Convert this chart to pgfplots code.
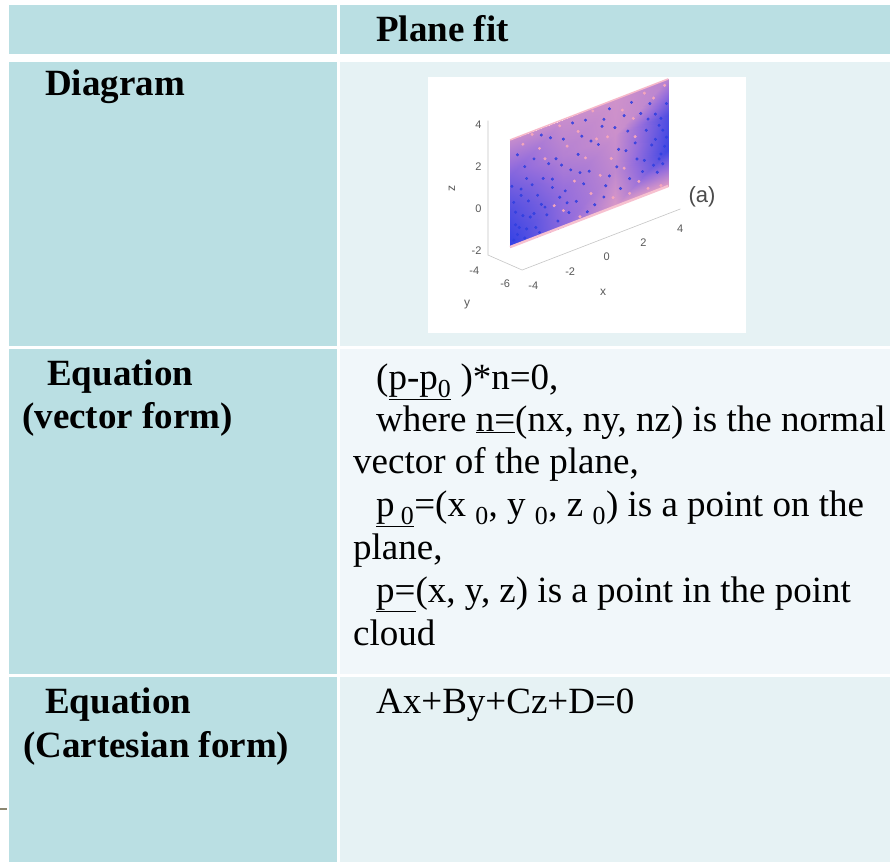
\documentclass[border=0pt]{standalone}
\usepackage{pgfplots}
\usepackage{pgfplotstable}
\pgfplotsset{compat=1.18}
\usepackage{fontspec}
\setmainfont{Liberation Serif}
\newfontfamily\plotfont{Liberation Sans}

\definecolor{cellhead}{HTML}{BADFE3}
\definecolor{cellB}{HTML}{E6F2F4}
\definecolor{cellC}{HTML}{F1F7FA}
\definecolor{dashcol}{HTML}{8C8670}
\definecolor{ptblue}{HTML}{2F3FE0}
\definecolor{ptpink}{HTML}{F4A6BC}

% plane grid: x, y, z, colour value (0 blue .. 1 pink)
\pgfplotstableread{
x y z m
-4.2 -5.42 -1.36 0.05
-1.33 -5.42 -1.36 0.45
1.53 -5.42 -1.36 0.85
4.4 -5.42 -1.36 0.90

-4.2 -5.42 0.34 0.18
-1.33 -5.42 0.34 0.50
1.53 -5.42 0.34 0.72
4.4 -5.42 0.34 0.10

-4.2 -5.42 2.04 0.40
-1.33 -5.42 2.04 0.66
1.53 -5.42 2.04 0.78
4.4 -5.42 2.04 0.18

-4.2 -5.42 3.74 0.75
-1.33 -5.42 3.74 0.76
1.53 -5.42 3.74 0.80
4.4 -5.42 3.74 0.68
}\planegrid

\pgfplotstableread{
x z
-4.0 -1.1
-3.7 -0.6
-3.9 0.2
-3.4 -1.2
-3.1 -0.3
-3.6 0.9
-2.8 -0.9
-2.5 0.1
-3.3 1.6
-2.9 2.4
-3.8 2.9
-2.2 -0.5
-1.9 0.7
-2.4 1.3
-1.6 -1.0
-1.2 0.3
-1.7 2.0
-2.0 3.1
-0.9 1.2
-0.6 -0.4
-0.3 2.6
-0.8 3.4
0.1 0.8
0.4 -0.9
0.6 1.9
0.9 3.0
1.2 0.2
1.5 2.4
1.8 -0.6
2.1 1.1
2.4 3.3
2.7 0.5
3.0 -0.2
3.2 1.7
3.5 0.9
3.7 2.3
3.9 0.1
4.1 1.4
4.2 0.6
3.8 -0.5
4.0 2.0
3.4 2.9
-3.5 -0.1
-4.1 1.5
-2.6 -1.2
-1.4 1.6
0.0 -1.1
1.0 -0.2
2.2 2.0
-1.0 -0.8
-3.2 0.5
-2.1 1.9
-0.2 0.3
0.8 2.7
1.7 1.3
2.9 2.6
3.6 -0.1
4.3 1.0
-3.9 -0.4
-3.0 1.2
-3.3 -0.8
-2.7 0.6
-3.6 1.2
-4.0 0.7
-2.3 -0.1
-1.5 0.1
-2.9 -0.2
-3.8 -0.9
-1.1 -0.3
-0.5 1.8
0.2 2.2
0.9 -0.7
1.6 0.5
2.3 -0.3
2.6 1.3
3.1 0.3
3.3 2.2
3.9 1.7
4.1 -0.2
4.3 2.6
3.7 1.1
4.0 0.3
2.0 2.8
1.2 3.4
-0.1 3.3
-1.3 2.8
-2.5 3.4
-3.4 2.2
-1.9 1.1
-0.4 0.9
}\bluepts

\pgfplotstableread{
x z
-3.5 3.3
-2.6 2.8
-1.5 3.5
-0.5 2.9
0.3 3.6
1.1 2.1
1.9 3.1
2.6 1.6
3.1 3.5
-1.1 2.4
-0.1 1.5
0.7 0.4
1.4 -0.9
2.3 -1.0
3.3 -1.1
4.0 -1.2
2.0 0.3
0.2 -0.3
-0.7 0.6
-1.8 -0.2
-2.3 2.2
-3.0 3.6
4.2 3.5
3.6 3.1
2.8 -0.6
1.3 1.0
-0.4 -1.2
-1.3 -0.6
0.5 2.2
2.5 2.5
}\pinkpts

\begin{document}
\begin{tikzpicture}
\useasboundingbox (0pt,0pt) rectangle (890pt,-862pt);
\fill[white] (0pt,0pt) rectangle (890pt,-862pt);

% table cells
\fill[cellhead] (9pt,-5pt) rectangle (337pt,-54pt);
\fill[cellhead] (340pt,-5pt) rectangle (890pt,-54pt);
\fill[cellhead] (9pt,-62pt) rectangle (337pt,-346pt);
\fill[cellB] (340pt,-62pt) rectangle (890pt,-346pt);
\fill[cellhead] (9pt,-349pt) rectangle (337pt,-674pt);
\fill[cellC] (340pt,-349pt) rectangle (890pt,-674pt);
\fill[cellhead] (9pt,-677pt) rectangle (337pt,-862pt);
\fill[cellB] (340pt,-677pt) rectangle (890pt,-862pt);
\draw[dashcol, line width=2pt] (0pt,-809pt) -- (7pt,-809pt);

% inset picture background
\fill[white] (428pt,-77pt) rectangle (746pt,-333pt);

\begin{scope}[every node/.style={anchor=base west, inner sep=0pt}]
\node[font=\fontsize{37}{44}\selectfont\bfseries] at (376pt,-41pt) {Plane fit};
\node[font=\fontsize{37}{44}\selectfont\bfseries] at (45pt,-95pt) {Diagram};
\node[font=\fontsize{37}{44}\selectfont\bfseries] at (47pt,-385pt) {Equation};
\node[font=\fontsize{37}{44}\selectfont\bfseries] at (22pt,-428pt) {(vector form)};
\node[font=\fontsize{37}{44}\selectfont\bfseries] at (45pt,-713pt) {Equation};
\node[font=\fontsize{37}{44}\selectfont\bfseries] at (23pt,-757pt) {(Cartesian form)};

\node[font=\fontsize{37}{43}\selectfont] at (376pt,-389pt) {(\underline{p-p\textsubscript{0}} )*n=0,};
\node[font=\fontsize{37}{43}\selectfont] at (376pt,-431pt) {where \underline{n=}(nx, ny, nz) is the normal};
\node[font=\fontsize{37}{43}\selectfont] at (353pt,-473pt) {vector of the plane,};
\node[font=\fontsize{37}{43}\selectfont] at (376pt,-516pt) {\underline{p\,\textsubscript{0}}=(x \textsubscript{0}, y \textsubscript{0}, z \textsubscript{0}) is a point on the};
\node[font=\fontsize{37}{43}\selectfont] at (353pt,-559pt) {plane,};
\node[font=\fontsize{37}{43}\selectfont] at (376pt,-602pt) {\underline{p=}(x, y, z) is a point in the point};
\node[font=\fontsize{37}{43}\selectfont] at (353pt,-645pt) {cloud};
\node[font=\fontsize{37}{43}\selectfont] at (376pt,-713pt) {Ax+By+Cz+D=0};
\end{scope}

\begin{axis}[
    x={(18.4pt,7.1pt)}, y={(-15.5pt,6.8pt)}, z={(0pt,21pt)},
    xmin=-4.2, xmax=4.4, ymin=-6.2, ymax=-4, zmin=-2.2, zmax=4.2,
    anchor=center, at={(584.2pt,-164.8pt)},
    clip=false,
    axis line style={draw=none},
    major tick length=0pt,
    xtick={-4,-2,0,2,4}, ytick={-6,-4}, ztick={-2,0,2,4},
    /pgf/number format/assume math mode=true,
    ticklabel style={font=\plotfont\fontsize{11}{12}\selectfont, text=black!65},
    xticklabel style={yshift=-9pt, xshift=2pt},
    yticklabel style={yshift=-7pt, xshift=-8pt},
    zticklabel style={xshift=-3pt},
    colormap={planecm}{rgb255=(40,60,230) rgb255=(150,110,220) rgb255=(245,170,190)},
    point meta min=0, point meta max=1,
]
    % axis lines
    \addplot3[gray!45, line width=0.6pt] coordinates {(-4.2,-4,4.2) (-4.2,-4,-2.2) (-4.2,-6.2,-2.2) (4.4,-6.2,-2.2)};
    % fitted plane
    \addplot3[surf, shader=interp, point meta=explicit, mesh/rows=4, mesh/cols=4] table[x=x, y=y, z=z, meta=m] {\planegrid};
    \addplot3[ptpink!70, line width=2.5pt] coordinates {(-4.2,-5.42,-1.36) (4.4,-5.42,-1.36)};
    \addplot3[ptpink!80, line width=1.5pt] coordinates {(-4.2,-5.42,3.74) (4.4,-5.42,3.74)};
    % point cloud speckle
    \addplot3[only marks, mark=*, mark size=1.3pt, ptblue, mark options={draw=none, fill=ptblue, fill opacity=0.8}]
        table[x=x, y expr=-5.42, z=z] {\bluepts};
    \addplot3[only marks, mark=*, mark size=1.3pt, ptpink, mark options={draw=none, fill=ptpink}]
        table[x=x, y expr=-5.42, z=z] {\pinkpts};
\end{axis}

% axis labels and tag of the inset
\node[font=\plotfont\fontsize{12}{13}\selectfont, text=black!65] at (603pt,-292pt) {x};
\node[font=\plotfont\fontsize{12}{13}\selectfont, text=black!65] at (467pt,-305pt) {y};
\node[font=\plotfont\fontsize{12}{13}\selectfont, text=black!65, rotate=90] at (452pt,-188pt) {z};
\node[font=\plotfont\fontsize{22}{24}\selectfont, text=black!70] at (702pt,-197pt) {(a)};
\end{tikzpicture}
\end{document}
